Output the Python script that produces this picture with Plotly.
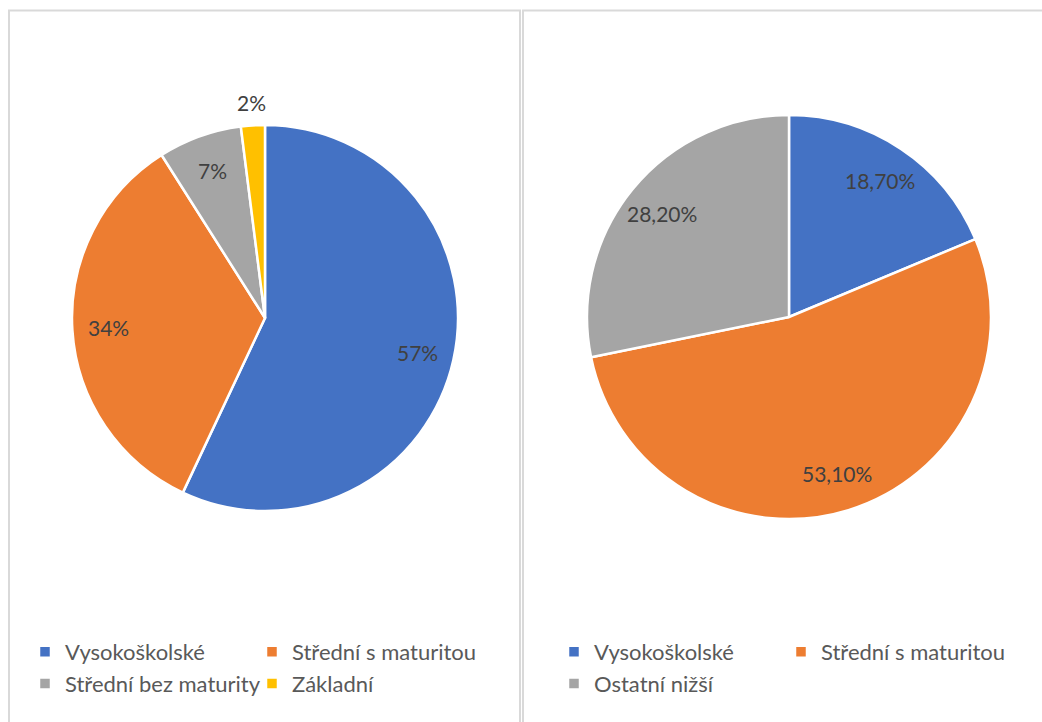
import math
import plotly.graph_objects as go

# Data
left_labels = ["Vysokoškolské", "Střední s maturitou", "Střední bez maturity", "Základní"]
left_values = [57, 34, 7, 2]
right_labels = ["Vysokoškolské", "Střední s maturitou", "Ostatní nižší"]
right_values = [18.7, 53.1, 28.2]

left_colors = ["#4472C4", "#ED7D31", "#A5A5A5", "#FFC000"]
right_colors = ["#4472C4", "#ED7D31", "#A5A5A5"]

W, H = 1042, 722
ML, MR = 60, 50            # plot-area margins (pixels)
GW = W - ML - MR
FONT = "Lato"
TXT = "#404040"
LEG = "#595959"


def px(x):
    """figure pixel x -> paper fraction"""
    return (x - ML) / GW


def py(y):
    """figure pixel y (from top) -> paper fraction"""
    return 1 - y / H


def fmt_left(v):
    return f"{v:.0f}%"


def fmt_right(v):
    return f"{v:.2f}".replace(".", ",") + "%"


# pie geometry (pixels): centre and radius
LEFT_PIE = (265, 318, 193)
RIGHT_PIE = (789, 317, 202)


def dom(c):
    cx, cy, r = c
    return dict(x=[px(cx - r), px(cx + r)], y=[py(cy + r), py(cy - r)])


fig = go.Figure()
fig.add_trace(go.Pie(
    labels=left_labels, values=left_values,
    textinfo="none", sort=False, direction="clockwise", rotation=0,
    marker=dict(colors=left_colors, line=dict(color="white", width=2.5)),
    domain=dom(LEFT_PIE), legend="legend", hoverinfo="label+percent",
))
# trailing space keeps the right chart's legend entries separate from the left's
fig.add_trace(go.Pie(
    labels=[lab + " " for lab in right_labels], values=right_values,
    textinfo="none", sort=False, direction="clockwise", rotation=0,
    marker=dict(colors=right_colors, line=dict(color="white", width=2.5)),
    domain=dom(RIGHT_PIE), legend="legend2", hoverinfo="label+percent",
))


def slice_labels(values, fmt, geom):
    cx, cy, r = geom
    total = sum(values)
    cum = 0
    anns = []
    for v in values:
        mid = (cum + v / 2) / total * 2 * math.pi
        cum += v
        f = 1.12 if v / total < 0.04 else 0.81
        x = cx + f * r * math.sin(mid)
        y = cy - f * r * math.cos(mid)
        anns.append(dict(x=px(x), y=py(y), xref="paper", yref="paper",
                         xanchor="center", yanchor="middle",
                         text=fmt(v), showarrow=False,
                         font=dict(family=FONT, size=21, color=TXT)))
    return anns


annotations = slice_labels(left_values, fmt_left, LEFT_PIE) + \
    slice_labels(right_values, fmt_right, RIGHT_PIE)

leg_common = dict(orientation="h", yanchor="top",
                  font=dict(family=FONT, size=22, color=LEG),
                  entrywidthmode="pixels", entrywidth=182,
                  bgcolor="rgba(0,0,0,0)", traceorder="normal")
fig.update_layout(
    width=W, height=H,
    margin=dict(l=ML, r=MR, t=0, b=0, autoexpand=False),
    paper_bgcolor="white", plot_bgcolor="white",
    showlegend=True,
    legend=dict(x=px(25), xanchor="left", y=py(631), **leg_common),
    legend2=dict(x=px(1008), xanchor="right", y=py(631), **leg_common),
    annotations=annotations,
    shapes=[
        dict(type="rect", xref="paper", yref="paper",
             x0=px(9), x1=px(520), y0=py(740), y1=py(10.5),
             line=dict(color="#D9D9D9", width=2), fillcolor="rgba(0,0,0,0)"),
        dict(type="rect", xref="paper", yref="paper",
             x0=px(523), x1=px(1060), y0=py(740), y1=py(10.5),
             line=dict(color="#D9D9D9", width=2), fillcolor="rgba(0,0,0,0)"),
    ],
)

fig.write_html("out.html", config={"displayModeBar": False},
               post_script="document.body.style.margin='0';document.body.style.overflow='hidden';")
